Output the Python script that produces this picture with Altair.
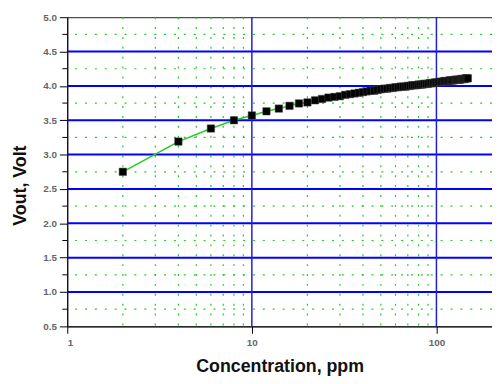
import altair as alt
import pandas as pd

# Data
conc = [2, 4, 6, 8, 10, 12, 14, 16, 18, 20, 22, 24, 26, 28, 30, 32, 34, 36, 38, 40,
        42, 44, 46, 48, 50, 52, 54, 56, 58, 60, 62, 64, 66, 68, 70, 72, 74, 76, 78, 80,
        82, 84, 86, 88, 90, 92, 94, 96, 98, 100, 102, 104, 106, 108, 110, 112, 114, 116,
        118, 120, 122, 124, 126, 128, 130, 132, 134, 136, 138, 140, 142, 144, 146, 148]
vout = [2.75, 3.19, 3.38, 3.50, 3.57, 3.63, 3.67, 3.71, 3.745, 3.76, 3.79, 3.81, 3.83, 3.84,
        3.85, 3.87, 3.88, 3.89, 3.90, 3.91, 3.92, 3.93, 3.93, 3.94, 3.95, 3.96, 3.96, 3.97,
        3.97, 3.98, 3.98, 3.99, 3.99, 3.99, 4.00, 4.00, 4.01, 4.01, 4.01, 4.02, 4.02, 4.02,
        4.03, 4.03, 4.03, 4.04, 4.04, 4.04, 4.05, 4.05, 4.05, 4.06, 4.06, 4.06, 4.07, 4.07,
        4.07, 4.07, 4.08, 4.08, 4.08, 4.08, 4.09, 4.09, 4.09, 4.09, 4.09, 4.10, 4.10, 4.10,
        4.10, 4.11, 4.11, 4.11]

x_ticks = [1, 10, 100]
y_ticks = [0.5, 1.0, 1.5, 2.0, 2.5, 3.0, 3.5, 4.0, 4.5, 5.0]
major_x = [10, 100]
major_y = [1.0, 1.5, 2.0, 2.5, 3.0, 3.5, 4.0, 4.5]
minor_x = [2, 3, 4, 5, 6, 7, 8, 9, 20, 30, 40, 50, 60, 70, 80, 90]
minor_y = [0.75, 1.25, 1.75, 2.25, 2.75, 3.25, 3.75, 4.25, 4.75]

df = pd.DataFrame({"c": conc, "v": vout})
dmx = pd.DataFrame({"c": minor_x})
dmy = pd.DataFrame({"v": minor_y})
dMx = pd.DataFrame({"c": major_x})
dMy = pd.DataFrame({"v": major_y})

xscale = alt.Scale(type="log", domain=[1, 200], nice=False)
yscale = alt.Scale(domain=[0.5, 5.0], nice=False, zero=False)

xaxis = alt.Axis(values=x_ticks, format="d", title="Concentration, ppm", grid=False,
                 tickSize=7, tickColor="black", domainColor="black",
                 labelColor="#666", labelFontSize=10, labelFontWeight="bold",
                 labelFont="Liberation Sans", labelPadding=4, labelOverlap=False,
                 titleFont="Liberation Sans", titleFontSize=18, titleFontWeight="bold",
                 titleColor="#111", titleY=46, titleBaseline="alphabetic")
yaxis = alt.Axis(values=y_ticks, title="Vout, Volt", grid=False,
                 labelExpr="format(datum.value, '.1f')",
                 tickSize=8, tickColor="black", domainColor="black",
                 labelColor="#666", labelFontSize=10, labelFontWeight="bold",
                 labelFont="Liberation Sans", labelPadding=3, labelOverlap=False,
                 labelFlush=False, labelBound=False,
                 titleFont="Liberation Sans", titleFontSize=18, titleFontWeight="bold",
                 titleColor="#111", titleX=-47, titleY=170, titleAngle=270,
                 titleBaseline="middle", titleAlign="center")

green = "#22cc22"
X = alt.X("c:Q", scale=xscale, axis=xaxis)
Y = alt.Y("v:Q", scale=yscale, axis=yaxis)

minor_v = alt.Chart(dmx).mark_rule(color=green, strokeWidth=1.2, strokeDash=[2, 8]).encode(x=X)
minor_h = alt.Chart(dmy).mark_rule(color=green, strokeWidth=1.2, strokeDash=[2, 8]).encode(y=Y)
minor_yticks = alt.Chart(dmy).mark_rule(color="black", strokeWidth=1).encode(
    y=Y, x=alt.value(-5), x2=alt.value(0))
major_h = alt.Chart(dMy).mark_rule(color="#0000ff", strokeWidth=2).encode(y=Y)
major_v = alt.Chart(dMx).mark_rule(color="#2020d0", strokeWidth=1.5).encode(x=X)
line = alt.Chart(df).mark_line(color=green, strokeWidth=1.5).encode(x=X, y=Y)
pts = alt.Chart(df).mark_square(color="black", size=56, opacity=1, stroke="#444",
                                strokeWidth=0.5).encode(x=X, y=Y)

chart = alt.layer(minor_v, minor_h, minor_yticks, major_h, major_v, line, pts).properties(
    width=430, height=313,
    autosize=alt.AutoSizeParams(type="none"),
    padding={"left": 60, "top": 7, "right": 0, "bottom": 54},
    background="white",
).configure_view(stroke="#222", strokeWidth=1).configure_axis(labelOverlap=False)

chart.save("out.html", embed_options={"renderer": "svg", "actions": False})
